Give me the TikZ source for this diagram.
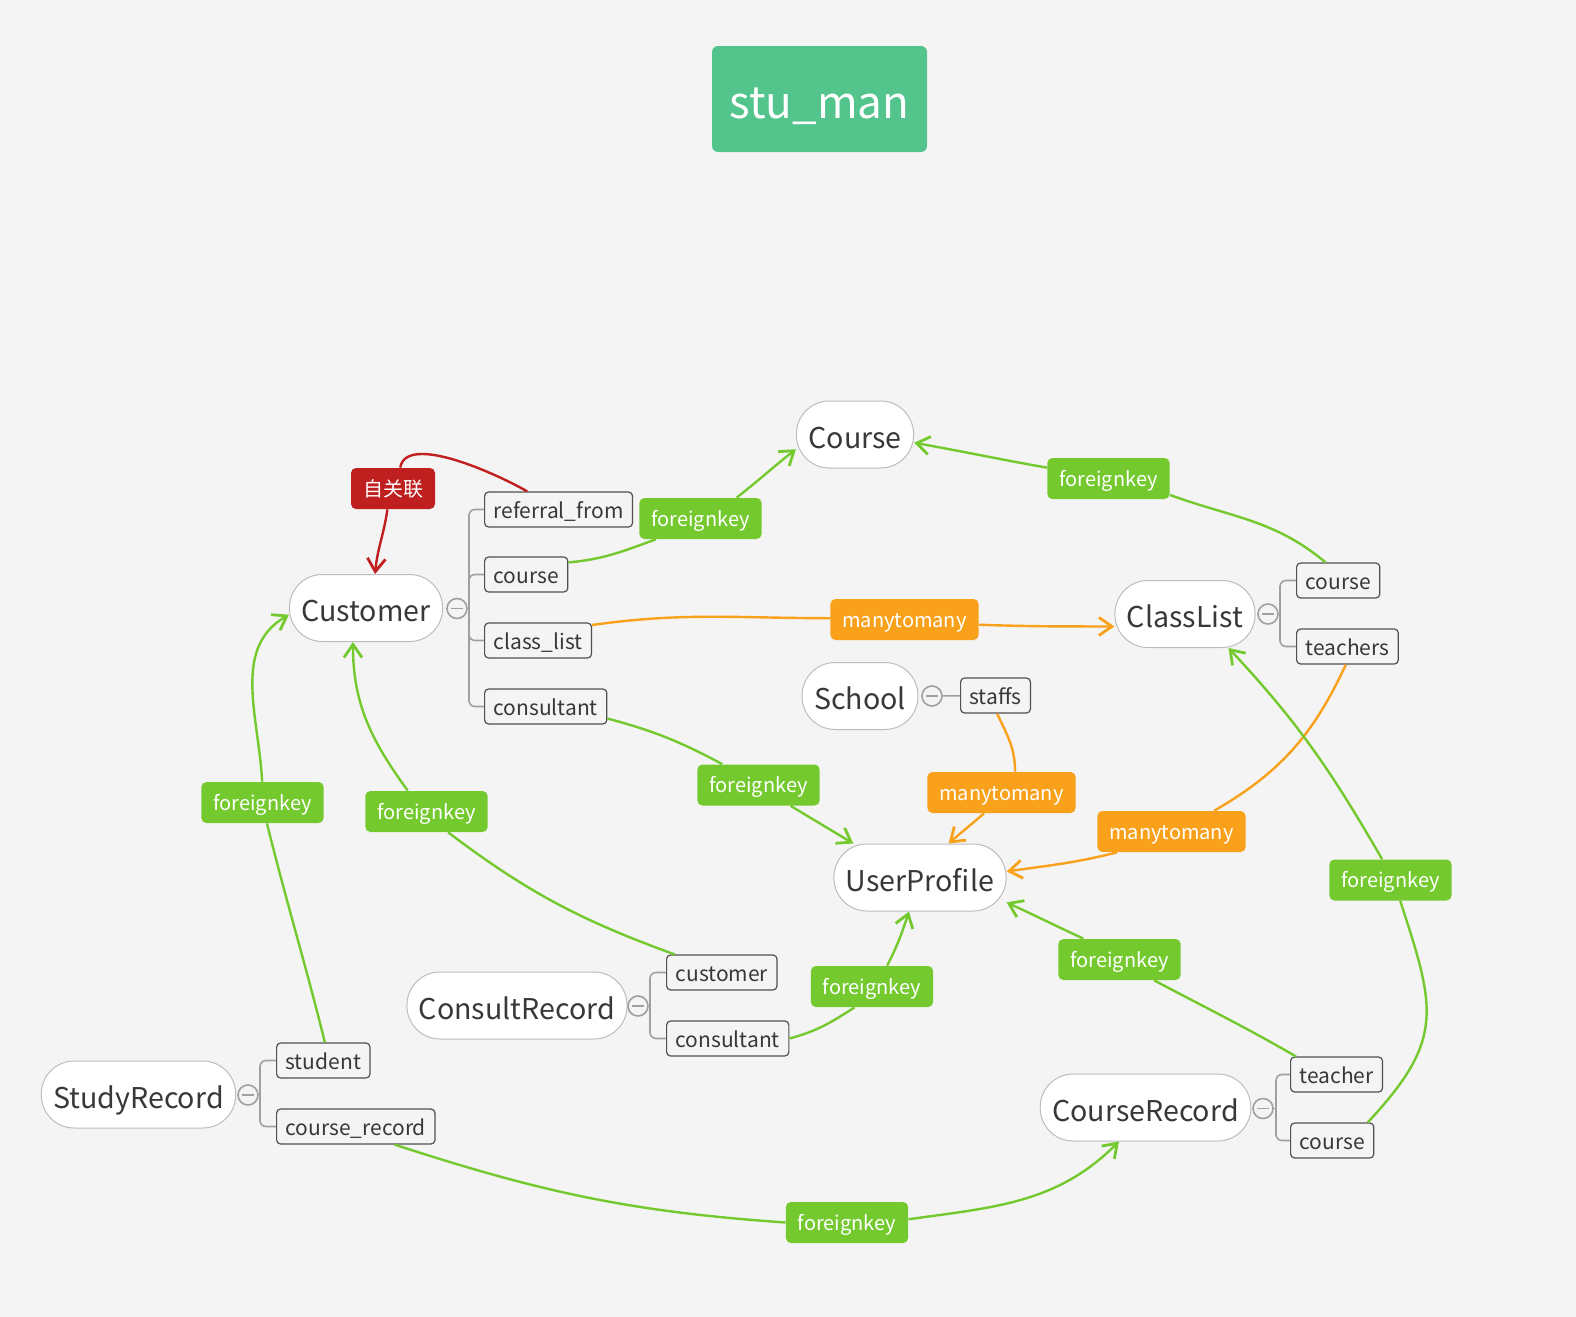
\documentclass[tikz,border=0pt]{standalone}
\usepackage{fontspec}
\setmainfont{Noto Sans CJK SC}
\usepackage{tikz}
\usetikzlibrary{arrows.meta}

\definecolor{bgcol}{HTML}{F4F4F4}
\definecolor{fkgreen}{HTML}{74C92E}
\definecolor{mmorange}{HTML}{F9A11B}
\definecolor{selfred}{HTML}{BF1F1F}
\definecolor{titlegreen}{HTML}{52C48C}
\definecolor{tbltext}{HTML}{383838}
\definecolor{tblborder}{HTML}{BDBDBD}
\definecolor{fldborder}{HTML}{505050}
\definecolor{branchgray}{HTML}{A0A0A0}

\begin{document}
\begin{tikzpicture}[x=0.5pt, y=0.5pt,
    title/.style={fill=titlegreen, rounded corners=3pt, minimum width=107.5pt, minimum height=53pt,
        text=white, text height=22pt, text depth=2pt, font=\fontsize{22}{26}\selectfont},
    tbl/.style={draw=tblborder, line width=0.5pt, fill=white, rounded corners=16.5pt,
        minimum height=33.5pt, inner xsep=6pt, text=tbltext, text height=15.5pt, text depth=2pt,
        font=\fontsize{14.3}{17}\selectfont},
    fld/.style={draw=fldborder, line width=0.6pt, fill=bgcol, rounded corners=2pt, anchor=west,
        minimum height=17.5pt, inner xsep=4.5pt, inner ysep=0pt, text=tbltext,
        text height=10.3pt, text depth=1.8pt, font=\fontsize{10.5}{12.5}\selectfont},
    tag/.style={rounded corners=2.5pt, minimum height=20.5pt, inner xsep=6pt, inner ysep=0pt,
        text=white, text height=9.3pt, text depth=1.8pt, font=\fontsize{10}{12}\selectfont},
    fk/.style={tag, fill=fkgreen},
    mm/.style={tag, fill=mmorange},
    minus/.style={circle, draw=branchgray, line width=0.8pt, fill=bgcol, minimum size=10pt, inner sep=0pt,
        path picture={\draw [branchgray, line width=0.8pt] ([xshift=2pt]path picture bounding box.west)
            -- ([xshift=-2pt]path picture bounding box.east);}},
    branch/.style={draw=branchgray, line width=0.8pt, rounded corners=3pt},
    link/.style={line width=1.2pt},
    tip/.style={-{Straight Barb[length=6.5pt,width=9pt,line width=1.4pt]}},
]
    \path [use as bounding box, fill=bgcol] (0,0) rectangle (1576,-1317);  % page background

    \node [title] (stuman) at (819.5,-99) {stu\_man};                      % title

    % tables
    \node [tbl] (course) at (855,-434.5) {Course};
    \node [tbl] (customer) at (366,-608) {Customer};
    \node [tbl] (classlist) at (1185,-614) {ClassList};
    \node [tbl] (school) at (860,-696) {School};
    \node [tbl] (userprofile) at (920,-877.5) {UserProfile};
    \node [tbl] (consultrec) at (517,-1005.5) {ConsultRecord};
    \node [tbl] (studyrec) at (138.5,-1094.5) {StudyRecord};
    \node [tbl] (courserec) at (1145.5,-1107.5) {CourseRecord};

    % fields of Customer
    \node [minus] (cu-min) at (457,-608.5) {};
    \coordinate (cu-j) at (469,-608.5);
    \node [fld] (cu-ref) at (484,-509.5) {referral\_from};
    \node [fld] (cu-course) at (484,-574.5) {course};
    \node [fld] (cu-cls) at (484,-640.5) {class\_list};
    \node [fld] (cu-cons) at (484,-706.5) {consultant};
    \draw [branch] (cu-min) -- (cu-j);
    \draw [branch] (cu-j) |- (cu-ref.west);
    \draw [branch] (cu-j) |- (cu-course.west);
    \draw [branch] (cu-j) |- (cu-cls.west);
    \draw [branch] (cu-j) |- (cu-cons.west);

    % fields of ClassList
    \node [minus] (cl-min) at (1268,-614) {};
    \coordinate (cl-j) at (1280,-614);
    \node [fld] (cl-course) at (1296,-580.5) {course};
    \node [fld] (cl-teach) at (1296,-646.5) {teachers};
    \draw [branch] (cl-min) -- (cl-j);
    \draw [branch] (cl-j) |- (cl-course.west);
    \draw [branch] (cl-j) |- (cl-teach.west);

    % field of School
    \node [minus] (sc-min) at (932,-696) {};
    \node [fld] (sc-staffs) at (960,-695.5) {staffs};
    \draw [branch] (sc-min) -- (sc-staffs);

    % fields of ConsultRecord
    \node [minus] (cr-min) at (638,-1006) {};
    \coordinate (cr-j) at (650,-1006);
    \node [fld] (cr-cust) at (666,-972.5) {customer};
    \node [fld] (cr-cons) at (666,-1038.5) {consultant};
    \draw [branch] (cr-min) -- (cr-j);
    \draw [branch] (cr-j) |- (cr-cust.west);
    \draw [branch] (cr-j) |- (cr-cons.west);

    % fields of StudyRecord
    \node [minus] (sr-min) at (248,-1095) {};
    \coordinate (sr-j) at (260,-1095);
    \node [fld] (sr-stu) at (276,-1060.5) {student};
    \node [fld] (sr-crec) at (276,-1126.5) {course\_record};
    \draw [branch] (sr-min) -- (sr-j);
    \draw [branch] (sr-j) |- (sr-stu.west);
    \draw [branch] (sr-j) |- (sr-crec.west);

    % fields of CourseRecord
    \node [minus] (co-min) at (1263,-1108.5) {};
    \coordinate (co-j) at (1276,-1108.5);
    \node [fld] (co-teach) at (1290,-1074.5) {teacher};
    \node [fld] (co-course) at (1290,-1140.5) {course};
    \draw [branch] (co-min) -- (co-j);
    \draw [branch] (co-j) |- (co-teach.west);
    \draw [branch] (co-j) |- (co-course.west);

    % relation labels
    \node [tag, fill=selfred, font=\fontsize{10}{12}\selectfont] (selfref) at (393,-488.5) {自关联};
    \node [fk] (fk-a) at (700.5,-518.5) {foreignkey};
    \node [fk] (fk-b) at (1108.5,-478.5) {foreignkey};
    \node [mm] (mm-a) at (904.5,-619.5) {manytomany};
    \node [fk] (fk-c) at (758.5,-785) {foreignkey};
    \node [mm] (mm-b) at (1001.5,-792.5) {manytomany};
    \node [mm] (mm-c) at (1171.5,-831.5) {manytomany};
    \node [fk] (fk-d) at (1390.5,-880) {foreignkey};
    \node [fk] (fk-e) at (262.5,-802.5) {foreignkey};
    \node [fk] (fk-f) at (426.5,-811.5) {foreignkey};
    \node [fk] (fk-g) at (872,-986.5) {foreignkey};
    \node [fk] (fk-h) at (1119.5,-959.5) {foreignkey};
    \node [fk] (fk-i) at (847,-1222.5) {foreignkey};

    % relations
    \draw [link, selfred] (cu-ref.150) to[out=150,in=80,looseness=0.7] (selfref.71);   % self relation
    \draw [link, selfred, tip] (selfref.-105) to[out=-98,in=85] (customer.75);

    \draw [link, fkgreen] (cu-course.16) to[out=5,in=200] (fk-a.205);                  % Customer.course
    \draw [link, fkgreen, tip] (fk-a.30) to[out=38,in=218] (course.194);

    \draw [link, fkgreen] (cl-course.125) to[out=140,in=-20] (fk-b.-15);               % ClassList.course
    \draw [link, fkgreen, tip] (fk-b.170) to[out=170,in=-10] (course.-8);

    \draw [link, mmorange] (cu-cls.16) to[out=8,in=180] (mm-a.179);                    % Customer.class_list
    \draw [link, mmorange, tip] (mm-a.-4) to[out=-2,in=180] (classlist.190);

    \draw [link, fkgreen] (cu-cons.-11) to[out=-15,in=152] (fk-c.150);                 % Customer.consultant
    \draw [link, fkgreen, tip] (fk-c.-33) to[out=-31,in=149] (userprofile.153);

    \draw [link, mmorange] (sc-staffs.-85) to[out=-65,in=90] (mm-b.57);                % School.staffs
    \draw [link, mmorange, tip] (mm-b.-130) to[out=-139,in=41] (userprofile.50);

    \draw [link, mmorange] (cl-teach.-95) to[out=-115,in=30] (mm-c.26);                % ClassList.teachers
    \draw [link, mmorange, tip] (mm-c.201) to[out=194,in=8] (userprofile.4);

    \draw [link, fkgreen] (co-course.27) to[out=47,in=-72,looseness=1.3] (fk-d.-65);   % CourseRecord.course
    \draw [link, fkgreen, tip] (fk-d.112) to[out=120,in=-47] (classlist.-38);

    \draw [link, fkgreen] (sr-stu.85) to[out=104,in=-76] (fk-e.-78);                   % StudyRecord.student
    \draw [link, fkgreen, tip] (fk-e.91) to[out=93,in=210] (customer.185);

    \draw [link, fkgreen] (cr-cust.159) to[out=160,in=-37] (fk-f.-44);                 % ConsultRecord.customer
    \draw [link, fkgreen, tip] (fk-f.132) to[out=126,in=-90] (customer.249);

    \draw [link, fkgreen] (cr-cons.east) to[out=15,in=-147] (fk-g.-130);               % ConsultRecord.consultant
    \draw [link, fkgreen, tip] (fk-g.54) to[out=63,in=-108] (userprofile.-108);

    \draw [link, fkgreen] (co-teach.156) to[out=150,in=-28] (fk-h.-31);                % CourseRecord.teacher
    \draw [link, fkgreen, tip] (fk-h.150) to[out=155,in=-25] (userprofile.-16);

    \draw [link, fkgreen] (sr-crec.-25) to[out=-18,in=176] (fk-i.180);                 % StudyRecord.course_record
    \draw [link, fkgreen, tip] (fk-i.3) to[out=8,in=-135] (courserec.-128);
\end{tikzpicture}
\end{document}
